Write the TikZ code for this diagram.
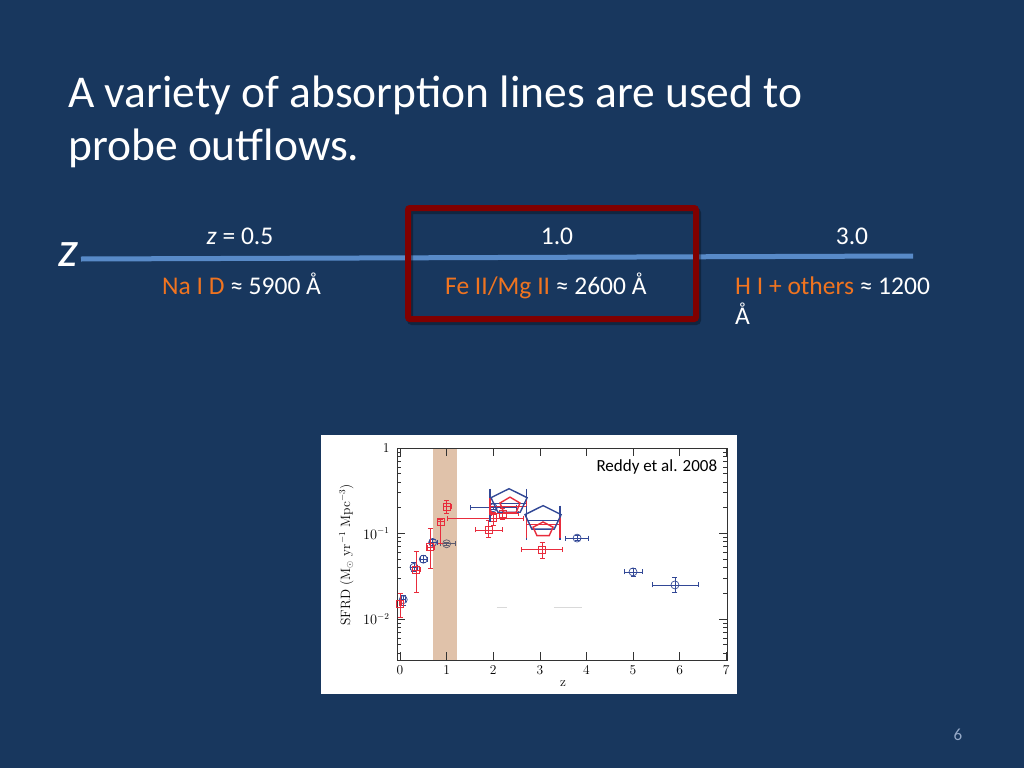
\documentclass[tikz,border=0pt]{standalone}
\usepackage{amsmath}
\usepackage{fontspec}
\newfontfamily\slidefont{Carlito}
\usetikzlibrary{positioning,arrows.meta,calc}
\definecolor{slidebg}{RGB}{24,55,94}
\definecolor{zline}{RGB}{88,138,200}
\definecolor{boxred}{RGB}{128,0,0}
\definecolor{ionorange}{RGB}{240,116,32}
\definecolor{ptblue}{RGB}{50,72,150}
\definecolor{ptgray}{RGB}{90,90,110}
\definecolor{ptred}{RGB}{232,44,60}
\definecolor{band}{RGB}{224,194,170}
\definecolor{pagenum}{RGB}{150,170,200}
\tikzset{slide/.style={font=\slidefont,text=white,inner sep=0pt}}
\tikzset{bigtext/.style={slide,font=\slidefont\fontsize{45.5}{53}\selectfont}}
\tikzset{midtext/.style={slide,font=\slidefont\fontsize{25.5}{30}\selectfont,anchor=base}}
\tikzset{axlabel/.style={font=\fontsize{13.5}{13.5}\selectfont,inner sep=1pt}}
\tikzset{ebar/.style={{Bar[width=5pt]}-{Bar[width=5pt]},line width=0.7pt}}
\tikzset{pentbar/.style={line width=1.4pt}}
\newcommand{\pent}[4]{\draw[#4,shift={(#1)}] (90:#2 and #3) -- (162:#2 and #3) -- (234:#2 and #3) -- (306:#2 and #3) -- (18:#2 and #3) -- cycle;}

\begin{document}
\begin{tikzpicture}[x=1pt,y=-1pt]
\fill[slidebg] (0,0) rectangle (1024,768);
\useasboundingbox (0,0) rectangle (1024,768);

% title
\node[bigtext,anchor=base west] (title1) at (68,107) {A variety of absorption lines are used to};
\node[bigtext,anchor=base west] (title2) at (68,160) {probe outflows.};

% redshift axis
\coordinate (zstart) at (81,259);
\coordinate (zend) at (913,256);
\draw[zline,line width=5pt] (zstart) -- (zend);
\node[bigtext,anchor=base east,font=\slidefont\itshape\fontsize{50}{50}\selectfont] (zsym) at (78,266) {z};

\node[midtext] (zhalf) at (240,244) {{\itshape z} = 0.5};
\node[midtext] (zone) at (557,244) {1.0};
\node[midtext] (zthree) at (852,244) {3.0};
\node[midtext,anchor=base west] (nai) at (162,294) {\textcolor{ionorange}{Na I D} ≈ 5900 Å};
\node[midtext,anchor=base west] (feii) at (445,294) {\textcolor{ionorange}{Fe II/Mg II} ≈ 2600 Å};
\node[midtext,anchor=base west] (hi) at (735,294) {\textcolor{ionorange}{H I + others} ≈ 1200};
\node[midtext,anchor=base west] (hiunit) at (735,324) {Å};

% highlight box
\draw[black,opacity=0.3,line width=6pt,rounded corners=2pt] (410,211) rectangle (698,322);
\node[draw=boxred,line width=6pt,rounded corners=2pt,minimum width=288pt,minimum height=111pt] (febox) at (552,263.5) {};

% plot
\fill[white] (321,435) rectangle (737,694);
\begin{scope}[shift={(400,448)},x=46.6pt,y=85.5pt]
\fill[band] (0.7,-2.48) rectangle (1.22,0);
\draw[line width=0.8pt,black!80] (-0.064,-2.48) rectangle (7.02,0);
\begin{scope}
\clip (-0.064,-2.48) rectangle (7.02,0);
\foreach \d in {-3,-2,-1} {
  \foreach \k in {2,...,9} {
    \draw[black!80,line width=0.6pt] (-0.064,{\d+log10(\k)}) -- ++(4pt,0);
    \draw[black!80,line width=0.6pt] (7.02,{\d+log10(\k)}) -- ++(-4pt,0);
  }
}
\end{scope}
\foreach \d in {0,-1,-2} {
  \draw[black!80,line width=0.6pt] (-0.064,\d) -- ++(8pt,0);
  \draw[black!80,line width=0.6pt] (7.02,\d) -- ++(-8pt,0);
}
\foreach \n in {0,...,7} {
  \draw[black!80,line width=0.6pt] (\n,-2.48) -- ++(0,8pt);
  \draw[black!80,line width=0.6pt] (\n,0) -- ++(0,-8pt);
  \node[axlabel,anchor=north] (xt\n) at (\n,-2.53) {\n};
}
\node[axlabel,anchor=east] (yt0) at (-0.2,0) {1};
\node[axlabel,anchor=east] (yt1) at (-0.2,-1) {$10^{-1}$};
\node[axlabel,anchor=east] (yt2) at (-0.2,-2) {$10^{-2}$};
\node[axlabel,rotate=90] (ytitle) at (-1.15,-1.25) {SFRD (M$_\odot$ yr$^{-1}$ Mpc$^{-3}$)};
\node[axlabel] (xtitle) at (3.5,-2.76) {z};
\node[anchor=base east,inner sep=0pt,font=\slidefont\fontsize{17}{17}\selectfont] (ref) at (6.81,-0.27) {Reddy et al. 2008};
\draw[black!15,line width=0.8pt] (2.08,-1.87) -- (2.3,-1.87) (3.3,-1.87) -- (3.9,-1.87);

% blue and gray circles
\foreach \z/\v/\zl/\zh/\vl/\vh/\c in {0.07/0.0165/0.02/0.12/0.0145/0.019/ptblue,
  0.3/0.040/0.22/0.38/0.035/0.046/ptblue, 0.5/0.050/0.42/0.6/0.045/0.056/ptblue,
  0.7/0.078/0.62/0.8/0.071/0.086/ptblue, 1.0/0.075/0.85/1.2/0.07/0.08/ptgray,
  2.0/0.20/1.5/2.5/0.19/0.21/ptblue, 3.8/0.088/3.55/4.05/0.081/0.096/ptblue,
  5.0/0.035/4.8/5.2/0.031/0.039/ptblue, 5.9/0.025/5.4/6.4/0.020/0.031/ptblue} {
  \draw[ebar,\c] (\zl,{log10(\v)}) -- (\zh,{log10(\v)});
  \draw[ebar,\c] (\z,{log10(\vl)}) -- (\z,{log10(\vh)});
  \draw[\c,line width=0.7pt] (\z,{log10(\v)}) circle (4pt);
}

% red squares
\foreach \z/\v/\zl/\zh/\vl/\vh in {0.0/0.015/-0.03/0.03/0.0102/0.020,
  0.35/0.037/0.25/0.45/0.020/0.062, 0.65/0.068/0.58/0.75/0.038/0.115,
  0.87/0.135/0.8/0.95/0.075/0.145, 1.0/0.205/0.92/1.1/0.17/0.245,
  2.0/0.15/1.0/2.65/0.125/0.18, 1.9/0.11/1.6/2.2/0.088/0.14,
  2.2/0.17/1.95/2.55/0.145/0.2, 3.05/0.063/2.6/3.5/0.05/0.078} {
  \draw[ebar,ptred] (\zl,{log10(\v)}) -- (\zh,{log10(\v)});
  \draw[ebar,ptred] (\z,{log10(\vl)}) -- (\z,{log10(\vh)});
  \draw[ptred,line width=0.7pt] (\z,{log10(\v)}) ++(-3.5pt,-3.5pt) rectangle ++(7pt,7pt);
}

% pentagons
\coordinate (bluepentA) at (2.34,-0.628);
\coordinate (redpentA) at (2.36,-0.674);
\coordinate (bluepentB) at (3.07,-0.826);
\coordinate (redpentB) at (3.07,-0.953);
\draw[pentbar,ptblue] (1.93,-0.477) -- (1.93,-0.86) (2.72,-0.477) -- (2.72,-0.86) (1.93,-0.651) -- (2.72,-0.651);
\draw[pentbar,ptred] (1.93,-0.581) -- (1.93,-0.779) (2.72,-0.581) -- (2.72,-0.779) (1.93,-0.686) -- (2.72,-0.686);
\pent{bluepentA}{19pt}{13pt}{pentbar,ptblue}
\pent{redpentA}{10.5pt}{8.5pt}{pentbar,ptred}
\draw[pentbar,ptblue] (2.72,-0.674) -- (2.72,-1.081) (3.43,-0.674) -- (3.43,-1.081) (2.72,-0.849) -- (3.43,-0.849);
\draw[pentbar,ptred] (2.72,-0.791) -- (2.72,-1.047) (3.43,-0.791) -- (3.43,-1.047) (2.72,-0.895) -- (3.43,-0.895);
\pent{bluepentB}{19pt}{13pt}{pentbar,ptblue}
\pent{redpentB}{10.5pt}{7.5pt}{pentbar,ptred}
\end{scope}

% page number
\node[slide,text=pagenum,font=\slidefont\fontsize{17}{17}\selectfont] (pagenr) at (958,735) {6};
\end{tikzpicture}
\end{document}
